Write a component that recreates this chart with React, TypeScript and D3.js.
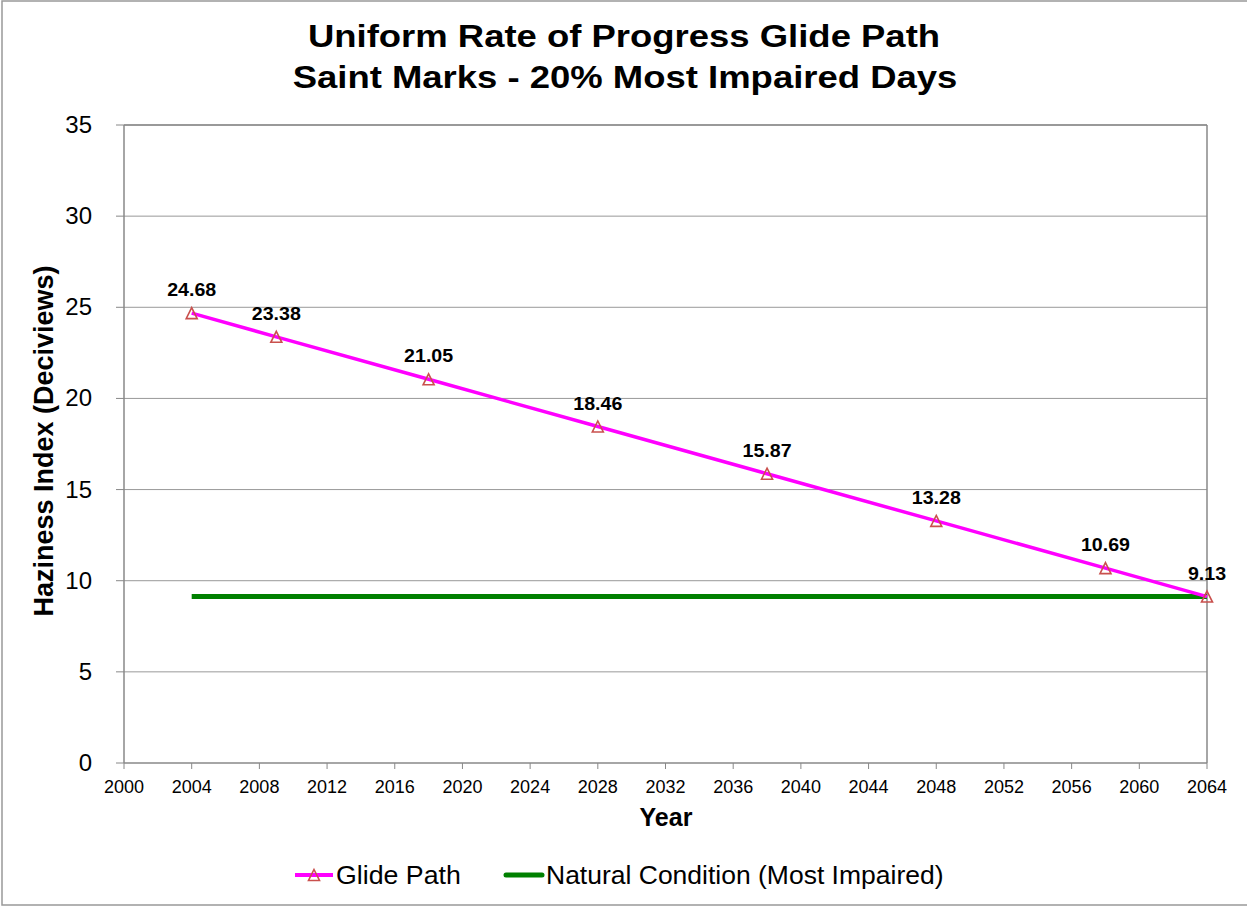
import React from "react";
import * as d3 from "d3";

const years = [2004, 2009, 2018, 2028, 2038, 2048, 2058, 2064];
const glideValues = [24.68, 23.38, 21.05, 18.46, 15.87, 13.28, 10.69, 9.13];
const naturalYears = [2004, 2064];
const naturalValues = [9.13, 9.13];
const xTicks = d3.range(2000, 2065, 4);
const yTicks = [0, 5, 10, 15, 20, 25, 30, 35];

const W = 1247;
const H = 907;
const L = 124, R = 1207, T = 125, B = 763;

function ST(props: { x: number; y: number; sx?: number; anchor?: string; size: number; bold?: boolean; children: any }) {
  const { x, y, sx = 1, anchor = "start", size, bold, children } = props;
  return (
    <text
      transform={`translate(${x},${y}) scale(${sx},1)`}
      textAnchor={anchor}
      fontSize={size}
      fontWeight={bold ? "bold" : "normal"}
    >
      {children}
    </text>
  );
}

export default function App() {
  const x = d3.scaleLinear().domain([2000, 2064]).range([L, R]);
  const y = d3.scaleLinear().domain([0, 35]).range([B, T]);
  const glide = d3.line<number>().x((_, i) => x(years[i])).y((d) => y(d))(glideValues) || "";
  const natural = d3.line<number>().x((_, i) => x(naturalYears[i])).y((d) => y(d))(naturalValues) || "";
  const tri = (cx: number, cy: number, s = 5.5) =>
    `M${cx},${cy - s}L${cx + s},${cy + s}L${cx - s},${cy + s}Z`;
  const font = "Arial, 'Liberation Sans', sans-serif";
  return (
    <div style={{ position: "absolute", left: 0, top: 0 }}>
      <svg width={W} height={H} style={{ display: "block", fontFamily: font }}>
        <rect x={0} y={0} width={W} height={H} fill="#fff" />
        <rect x={2} y={1} width={W + 10} height={904} fill="none" stroke="#999" strokeWidth={1.5} />
        <ST x={624} y={47} anchor="middle" size={32} sx={1.14} bold>Uniform Rate of Progress Glide Path</ST>
        <ST x={625} y={88} anchor="middle" size={32} sx={1.14} bold>Saint Marks - 20% Most Impaired Days</ST>
        {yTicks.map((t) => (
          <g key={"y" + t}>
            {t > 0 && <line x1={L} x2={R} y1={y(t)} y2={y(t)} stroke="#999" strokeWidth={1} />}
            <line x1={L - 8} x2={L} y1={y(t)} y2={y(t)} stroke="#888" strokeWidth={1} />
            <text x={92} y={y(t) + 8} textAnchor="end" fontSize={24}>{t}</text>
          </g>
        ))}
        {xTicks.map((t) => (
          <g key={"x" + t}>
            <line x1={x(t)} x2={x(t)} y1={B} y2={B + 6} stroke="#888" strokeWidth={1} />
            <text x={x(t)} y={B + 30} textAnchor="middle" fontSize={18}>{t}</text>
          </g>
        ))}
        <line x1={L} x2={L} y1={T} y2={B} stroke="#888" strokeWidth={1.5} />
        <line x1={L} x2={R} y1={B} y2={B} stroke="#888" strokeWidth={1.5} />
        <line x1={R} x2={R} y1={T} y2={B} stroke="#888" strokeWidth={1.5} />
        <line x1={L} x2={R} y1={T} y2={T} stroke="#888" strokeWidth={1.5} />
        <path d={natural} fill="none" stroke="#008000" strokeWidth={5} />
        <path d={glide} fill="none" stroke="#ff00ff" strokeWidth={3.5} />
        {glideValues.map((v, i) => (
          <g key={"p" + i}>
            <path d={tri(x(years[i]), y(v))} fill="none" stroke="#c9504d" strokeWidth={1.6} />
            <ST x={x(years[i])} y={y(v) - 17} anchor="middle" size={18} sx={1.09} bold>{v.toFixed(2)}</ST>
          </g>
        ))}
        <text transform={`translate(53,${441}) rotate(-90)`} textAnchor="middle" fontSize={27} fontWeight="bold">Haziness Index (Deciviews)</text>
        <text x={666} y={826} textAnchor="middle" fontSize={25} fontWeight="bold">Year</text>
        <line x1={295} x2={333} y1={875} y2={875} stroke="#ff00ff" strokeWidth={4} />
        <path d={tri(314, 875)} fill="none" stroke="#c9504d" strokeWidth={1.6} />
        <ST x={336} y={884} size={25} sx={1.07}>Glide Path</ST>
        <line x1={506} x2={542} y1={875} y2={875} stroke="#008000" strokeWidth={5} strokeLinecap="round" />
        <ST x={546} y={884} size={25} sx={1.06}>Natural Condition (Most Impaired)</ST>
      </svg>
    </div>
  );
}
